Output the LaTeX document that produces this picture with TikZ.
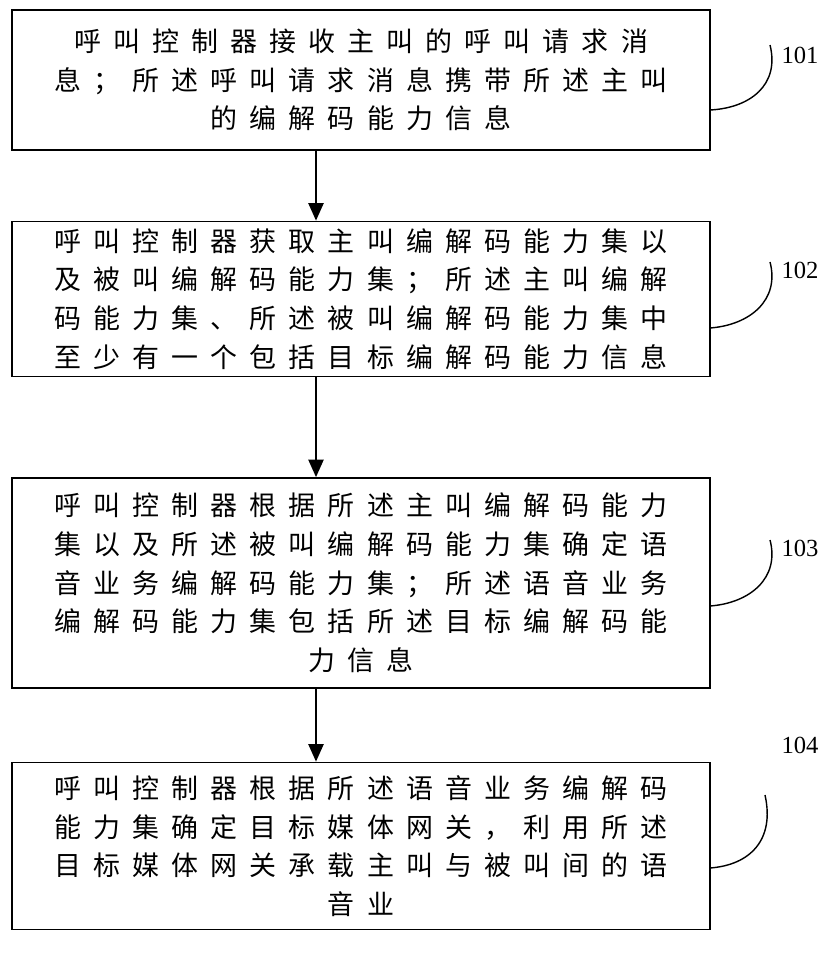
\documentclass[tikz,border=0pt]{standalone}
\usepackage{fontspec}
\setmainfont{Liberation Serif}
\newfontfamily\cjk{Noto Sans CJK SC}[LetterSpace=45]
\usetikzlibrary{arrows.meta}
\begin{document}
\begin{tikzpicture}[x=0.03cm,y=-0.03cm,
  stage/.style={draw,line width=1.5pt,minimum width=698*0.03cm,align=center,
    font=\cjk\fontsize{23}{33}\selectfont,inner sep=0pt},
  flow/.style={line width=1.5pt,-{Triangle[length=15pt,width=13pt]}},
  tag/.style={font=\fontsize{21}{24}\selectfont}]
\useasboundingbox (0,0) rectangle (829,954);

% steps
\node[stage,minimum height=140*0.03cm] (s1) at (361,80)
  {呼叫控制器接收主叫的呼叫请求消\\息；所述呼叫请求消息携带所述主叫\\的编解码能力信息};
\node[stage,minimum height=155*0.03cm] (s2) at (361,299)
  {呼叫控制器获取主叫编解码能力集以\\及被叫编解码能力集；所述主叫编解\\码能力集、所述被叫编解码能力集中\\至少有一个包括目标编解码能力信息};
\node[stage,minimum height=210*0.03cm] (s3) at (361,583)
  {呼叫控制器根据所述主叫编解码能力\\集以及所述被叫编解码能力集确定语\\音业务编解码能力集；所述语音业务\\编解码能力集包括所述目标编解码能\\力信息};
\node[stage,minimum height=167*0.03cm] (s4) at (361,846)
  {呼叫控制器根据所述语音业务编解码\\能力集确定目标媒体网关，利用所述\\目标媒体网关承载主叫与被叫间的语\\音业};

% arrows
\coordinate (ax) at (316,0);
\draw[flow] (s1.south -| ax) -- (s2.north -| ax);
\draw[flow] (s2.south -| ax) -- (s3.north -| ax);
\draw[flow] (s3.south -| ax) -- (s4.north -| ax);

% labels
\node[tag] (t1) at (800,55) {101};
\node[tag] (t2) at (800,270) {102};
\node[tag] (t3) at (800,548) {103};
\node[tag] (t4) at (800,745) {104};
\draw[line width=1.2pt] (770,45) .. controls (780,85) and (750,108) .. (710,110);
\draw[line width=1.2pt] (770,262) .. controls (780,300) and (750,325) .. (710,328);
\draw[line width=1.2pt] (770,540) .. controls (780,578) and (750,603) .. (710,606);
\draw[line width=1.2pt] (765,795) .. controls (775,840) and (750,865) .. (710,868);
\end{tikzpicture}
\end{document}
